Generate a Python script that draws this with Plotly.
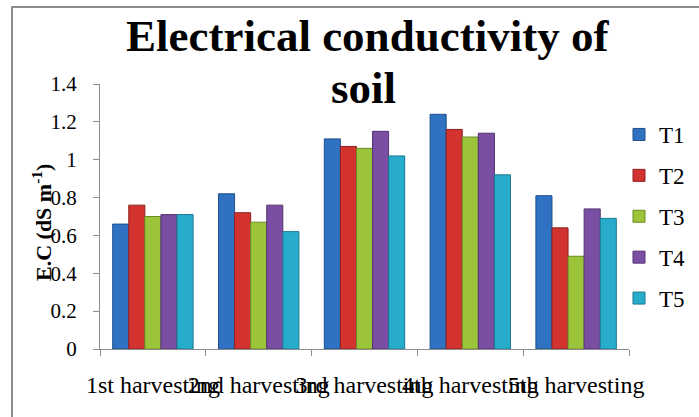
import plotly.graph_objects as go

# Soil EC for each harvest, by treatment
harvests = ["1st harvesting", "2nd harvesting", "3rd harvesting",
            "4th harvesting", "5th harvesting"]
treatments = ["T1", "T2", "T3", "T4", "T5"]
T1 = [0.66, 0.82, 1.11, 1.24, 0.81]
T2 = [0.76, 0.72, 1.07, 1.16, 0.64]
T3 = [0.70, 0.67, 1.06, 1.12, 0.49]
T4 = [0.71, 0.76, 1.15, 1.14, 0.74]
T5 = [0.71, 0.62, 1.02, 0.92, 0.69]
series = [T1, T2, T3, T4, T5]

colors = ["#2F72C2", "#D2332E", "#9CC43A", "#7A4EA3", "#27ADCB"]
edges = ["#1F4F8A", "#8E2020", "#6C8A25", "#533270", "#1A7890"]

W, H = 699, 417
L, R, T, B = 100, 70, 84, 68
pw, ph = W - L - R, H - T - B


def px_x(x):
    return (x - L) / pw


def px_y(y):
    return (H - B - y) / ph


fig = go.Figure()
for name, vals, c, e in zip(treatments, series, colors, edges):
    fig.add_trace(go.Bar(
        x=harvests, y=vals, name=name, legendgroup=name,
        marker=dict(color=c, line=dict(color=e, width=1)),
    ))

serif = "Liberation Serif, Times New Roman, serif"

fig.update_layout(
    width=W, height=H,
    margin=dict(l=L, r=R, t=T, b=B, autoexpand=False),
    paper_bgcolor="white", plot_bgcolor="white",
    barmode="group", bargap=0.24, bargroupgap=0.0,
    font=dict(family=serif, color="black", size=20),
    legend=dict(
        xref="container", yref="container",
        x=619 / W, xanchor="left", y=1 - 113 / H,
        yanchor="top", font=dict(family=serif, size=23),
        tracegroupgap=8, bgcolor="rgba(0,0,0,0)",
    ),
    showlegend=True,
)

# Two-line chart title
for txt, yc, xc in [("Electrical conductivity of", 36, 367), ("soil", 88, 363)]:
    fig.add_annotation(
        text="<b>" + txt + "</b>", showarrow=False,
        xref="paper", yref="paper", x=px_x(xc), y=px_y(yc),
        xanchor="center", yanchor="middle",
        font=dict(family=serif, size=45, color="black"),
    )

# Y-axis title
fig.add_annotation(
    text="<b>E.C (dS m<sup>-1</sup>)</b>", showarrow=False, textangle=-90,
    xref="paper", yref="paper", x=px_x(42), y=px_y(223),
    xanchor="center", yanchor="middle",
    font=dict(family=serif, size=22, color="black"),
)

fig.update_xaxes(
    type="category", showline=True, linecolor="#8C8C8C", linewidth=1,
    ticks="outside", ticklen=6, tickcolor="#8C8C8C", tickson="boundaries",
    showgrid=False, tickfont=dict(family=serif, size=24), tickangle=0,
    ticklabelstandoff=14, automargin=False,
)
fig.update_yaxes(
    range=[0, 1.4], dtick=0.2, tickformat="~g",
    showline=True, linecolor="#8C8C8C", linewidth=1,
    ticks="outside", ticklen=6, tickcolor="#8C8C8C",
    showgrid=False, zeroline=False, tickfont=dict(family=serif, size=21),
    ticklabelstandoff=12, automargin=False,
)

# Outer chart frame
fig.add_shape(
    type="rect", xref="paper", yref="paper",
    x0=px_x(12), x1=px_x(705), y0=px_y(425), y1=px_y(7),
    line=dict(color="#8C8C8C", width=2), fillcolor="rgba(0,0,0,0)",
    layer="below",
)

fig.write_html("out.html")
